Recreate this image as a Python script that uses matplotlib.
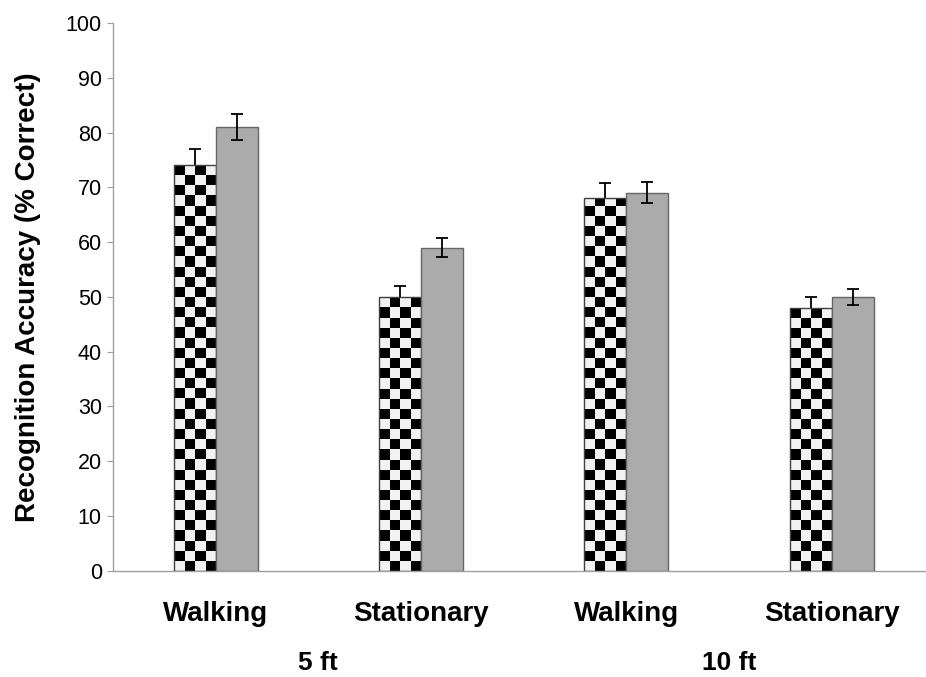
import numpy as np
import matplotlib.pyplot as plt
from matplotlib.colors import ListedColormap

plt.rcParams["font.family"] = ["Liberation Sans", "DejaVu Sans"]

categories = ["Walking", "Stationary", "Walking", "Stationary"]
groups = ["5 ft", "10 ft"]
checker_values = [74, 50, 68, 48]
checker_errors = [3.0, 2.0, 2.7, 2.0]
gray_values = [81, 59, 69, 50]
gray_errors = [2.4, 1.8, 1.9, 1.5]

fig = plt.figure(figsize=(9.26, 6.77), dpi=100)
ax = fig.add_axes([0.122, 0.157, 0.887, 0.809])

x = np.arange(len(categories))
width = 0.205

checker_bars = ax.bar(x - width / 2, checker_values, width, color="none",
                      edgecolor="#404040", linewidth=1.0, zorder=3)
gray_bars = ax.bar(x + width / 2, gray_values, width, color="#ababab",
                   edgecolor="#666666", linewidth=1.0, zorder=3)

ax.errorbar(x - width / 2, checker_values, yerr=checker_errors, fmt="none",
            ecolor="black", elinewidth=1.3, capsize=4, capthick=1.3, zorder=2)
ax.errorbar(x + width / 2, gray_values, yerr=gray_errors, fmt="none",
            ecolor="black", elinewidth=1.3, capsize=4, capthick=1.3, zorder=4)

# checkerboard fill for the first series
square = 1.85
cmap = ListedColormap(["#f2f2f2", "#000000"])
for bar in checker_bars:
    bx, bw, bh = bar.get_x(), bar.get_width(), bar.get_height()
    nrows = int(np.ceil(bh / square))
    grid = np.indices((nrows, 4)).sum(axis=0) % 2
    im = ax.imshow(grid, cmap=cmap, interpolation="nearest", aspect="auto",
                   origin="lower", extent=[bx, bx + bw, 0, nrows * square],
                   zorder=2.5)
    im.set_clip_path(bar)

ax.set_xlim(-0.5, len(categories) - 0.5)
ax.set_ylim(0, 100)
ax.set_yticks(np.arange(0, 101, 10))
ax.tick_params(axis="y", labelsize=15.5, length=4, color="#a0a0a0", pad=4)
ax.tick_params(axis="x", length=0, labelsize=20, pad=22)
ax.set_xticks(x)
ax.set_xticklabels(categories, fontweight="bold")

for side in ["top", "right"]:
    ax.spines[side].set_visible(False)
for side in ["left", "bottom"]:
    ax.spines[side].set_color("#a0a0a0")
    ax.spines[side].set_linewidth(1.0)

ax.set_ylabel("Recognition Accuracy (% Correct)", fontsize=20,
              fontweight="bold", labelpad=18)

for i, label in enumerate(groups):
    ax.text(2 * i + 0.5, -18.2, label, ha="center", va="baseline",
            fontsize=19, fontweight="bold", clip_on=False)

fig.savefig("out.png", dpi=100)
